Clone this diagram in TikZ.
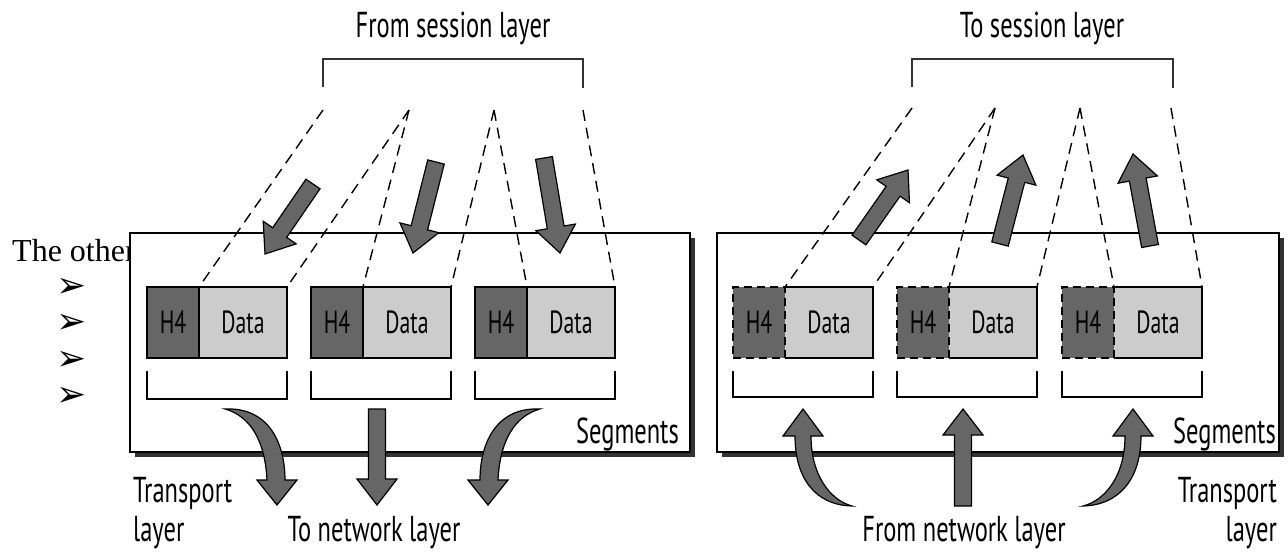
\documentclass[tikz,border=0pt]{standalone}
\usepackage{fontspec}
\usetikzlibrary{calc,positioning}
\newfontfamily\lblfont{PT Sans}[FakeStretch=0.68]
\newfontfamily\serifont{Liberation Serif}
\newfontfamily\symfont{DejaVu Sans}
\definecolor{hdrgray}{HTML}{666666}
\definecolor{datagray}{HTML}{CCCCCC}
\definecolor{shadowgray}{HTML}{333333}

\tikzset{
  lbl/.style={font=\lblfont\fontsize{36}{38}\selectfont, inner sep=0pt},
  seglbl/.style={font=\lblfont\fontsize{32}{34}\selectfont},
  panel/.style={fill=white, draw=black, line width=1.6pt},
  hdr/.style={fill=hdrgray, draw=black, line width=1.2pt, outer sep=0pt,
    minimum width=52pt, minimum height=71pt, seglbl},
  dat/.style={fill=datagray, line width=1.2pt, outer sep=0pt,
    minimum width=88pt, minimum height=71pt, seglbl},
  brace/.style={draw=black, line width=1.2pt},
  guide/.style={line width=1.4pt, dash pattern=on 11pt off 7pt},
  bigarrow/.style={fill=hdrgray, draw=black, line width=1.2pt, line join=miter}
}

% block arrow from tail #1 to tip #2
\newcommand{\blockarrow}[2]{%
  \coordinate (ba-b) at ($(#2)!26pt!(#1)$);
  \filldraw[bigarrow] ($(#1)!8.5pt!90:(#2)$) -- ($(ba-b)!8.5pt!90:(#2)$)
    -- ($(ba-b)!20pt!90:(#2)$) -- (#2) -- ($(ba-b)!20pt!-90:(#2)$)
    -- ($(ba-b)!8.5pt!-90:(#2)$) -- ($(#1)!8.5pt!-90:(#2)$) -- cycle;}

\begin{document}
\begin{tikzpicture}[x=1pt, y=-1pt]
\useasboundingbox (0,0) rectangle (1288,552);

% Text behind the left panel
\node[anchor=base west, inner sep=0pt, font=\serifont\fontsize{32}{34}\selectfont]
  (other) at (12,261) {The other};
\foreach \i/\y in {1/288,2/324,3/361,4/397} {
  \node[inner sep=0pt, font=\symfont\fontsize{36}{38}\selectfont] (bul\i) at (72,\y) {➢};
}

% Panels with shadow
\fill[shadowgray] (135,238) rectangle (695,457);
\draw[panel] (130,233) rectangle (690,452);
\fill[shadowgray] (722,238) rectangle (1284,457);
\draw[panel] (717,233) rectangle (1279,452);

% Left segments
\foreach \i/\x in {1/147,2/311,3/475} {
  \node[hdr, anchor=north west] (lh\i) at (\x,287) {H4};
  \node[dat, draw=black, right=0pt of lh\i] (ld\i) {Data};
  \draw[brace] ([yshift=-13pt]lh\i.south west) -- ([yshift=-41pt]lh\i.south west)
    -- ([yshift=-41pt]ld\i.south east) -- ([yshift=-13pt]ld\i.south east);
}
% Right segments
\foreach \i/\x in {1/785,2/949,3/1114} {
  \node[dat, anchor=north west] (rd\i) at (\x,287) {Data};
  \node[hdr, dash pattern=on 8pt off 5pt, left=0pt of rd\i] (rh\i) {H4};
  \draw[brace] (rd\i.north west) -- (rd\i.north east) -- (rd\i.south east) -- (rd\i.south west);
  \draw[brace] ([yshift=-13pt]rh\i.south west) -- ([yshift=-39pt]rh\i.south west)
    -- ([yshift=-39pt]rd\i.south east) -- ([yshift=-13pt]rd\i.south east);
}

% Session brackets
\draw[brace, shadowgray] (323,87) |- (583,59) -- (583,88);
\draw[brace, shadowgray] (912,87) |- (1173,59) -- (1173,88);
\foreach \i/\x in {1/323,2/409,3/494,4/583} \coordinate (ls\i) at (\x,110);
\foreach \i/\x in {1/912,2/995,3/1080,4/1171} \coordinate (rs\i) at (\x,108);

% Dashed guides
\draw[guide] (ls1) -- (lh1.north east);
\draw[guide] (ls2) -- (ld1.north east);
\draw[guide] (ls2) -- (lh2.north east);
\draw[guide] (ls3) -- (ld2.north east);
\draw[guide] (ls3) -- (lh3.north east);
\draw[guide] (ls4) -- (ld3.north east);
\draw[guide] (rs1) -- (rh1.north east);
\draw[guide] (rs2) -- (rd1.north east);
\draw[guide] (rs2) -- (rh2.north east);
\draw[guide] (rs3) -- (rd2.north east);
\draw[guide] (rs3) -- (rh3.north east);
\draw[guide] (rs4) -- (rd3.north east);

% Top arrows
\foreach \i/\tx/\ty/\hx/\hy in {1/313/184/265/254, 2/436/162/413/253, 3/544/158/560/253,
    4/859/240/908/170, 5/1000/244/1023/155, 6/1150/246/1133/154} {
  \coordinate (at\i) at (\tx,\ty);
  \coordinate (ah\i) at (\hx,\hy);
  \blockarrow{at\i}{ah\i}
}

% Bottom arrows, left panel
\coordinate (lt) at (377,409);
\coordinate (lb) at (377,505);
\blockarrow{lt}{lb}
\filldraw[bigarrow] (277,505) -- (257,480) -- (267,480) .. controls (265,440) and (250,416) .. (225,409)
  .. controls (270,407) and (285,445) .. (285,480) -- (297,480) -- cycle;
\filldraw[bigarrow] (488,505) -- (508,480) -- (498,480) .. controls (500,440) and (515,416) .. (540,409)
  .. controls (495,407) and (480,445) .. (480,480) -- (468,480) -- cycle;

% Bottom arrows, right panel
\coordinate (rb) at (963,506);
\coordinate (rt) at (963,409);
\blockarrow{rb}{rt}
\filldraw[bigarrow] (803,409) -- (823,436) -- (811,436) .. controls (811,475) and (830,500) .. (852,506)
  .. controls (815,505) and (795,478) .. (795,436) -- (783,436) -- cycle;
\filldraw[bigarrow] (1133,409) -- (1113,436) -- (1125,436) .. controls (1125,475) and (1106,500) .. (1083,506)
  .. controls (1120,505) and (1141,478) .. (1141,436) -- (1153,436) -- cycle;

% Labels
\node[lbl, anchor=base] (fromsess) at (453,37) {From session layer};
\node[lbl, anchor=base] (tosess) at (1042,37) {To session layer};
\node[lbl, anchor=base east] (lseg) at (679,443) {Segments};
\node[lbl, anchor=base east] (rseg) at (1276,443) {Segments};
\node[lbl, anchor=base west] (ltrans) at (133,502) {Transport};
\node[lbl, anchor=base west] (llayer) at (133,541) {layer};
\node[lbl, anchor=base] (tonet) at (374,541) {To network layer};
\node[lbl, anchor=base east] (rtrans) at (1277,502) {Transport};
\node[lbl, anchor=base east] (rlayer) at (1277,541) {layer};
\node[lbl, anchor=base] (fromnet) at (964,541) {From network layer};
\end{tikzpicture}
\end{document}
